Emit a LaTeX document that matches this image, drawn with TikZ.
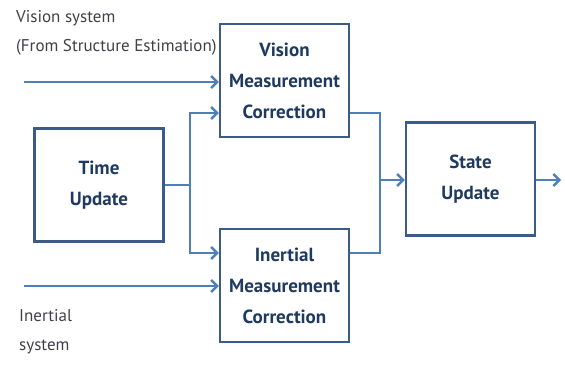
\documentclass[tikz,border=0pt]{standalone}
\usepackage{fontspec}
\setmainfont{PT Sans}
\usetikzlibrary{positioning, arrows.meta}
\definecolor{boxline}{HTML}{3B5C86}
\definecolor{flowline}{HTML}{4F7FB8}
\definecolor{boxtext}{HTML}{1F3A60}
\definecolor{srctext}{HTML}{404048}

\begin{document}
\begin{tikzpicture}[
        x=1pt, y=-1pt,
        block/.style = {draw=boxline, line width=2.4pt, minimum width=129pt, minimum height=113pt, align=center, text=boxtext, font=\bfseries\fontsize{19}{31}\selectfont},
        src/.style   = {anchor=north west, align=left, inner sep=0pt, text=srctext, font=\fontsize{17}{29}\selectfont},
        flow/.style  = {draw=flowline, line width=2.7pt},
        arrow/.style = {flow, -{Straight Barb[length=6pt, width=12pt, line width=2.5pt]}},
    ]
        \useasboundingbox (0,0) rectangle (565,366);

        %---- blocks ----
        \node[block] (tu)  at (99,185)    {Time\\Update};
        \node[block] (vmc) at (284.5,80.5) {Vision\\Measurement\\Correction};
        \node[block] (imc) at (284.5,285.5) {Inertial\\Measurement\\Correction};
        \node[block] (su)  at (470.5,179)  {State\\Update};

        %---- sensor inputs ----
        \node[src] (vsys) at (16,10) {Vision system\\(From Structure Estimation)};
        \node[src] (isys) at (19,309) {Inertial\\system};
        \coordinate (vin) at (24,82);
        \coordinate (iin) at (24,286);
        \draw[arrow] (vin) -- (vin -| vmc.west);
        \draw[arrow] (iin) -- (iin -| imc.west);

        %---- split after time update ----
        \coordinate (split) at (190,185);
        \draw[flow] (tu.east) -- (split);
        \draw[arrow] (split) |- ([yshift=-32.5pt]vmc.west);
        \draw[arrow] (split) |- ([yshift=32.5pt]imc.west);

        %---- merge into state update ----
        \coordinate (merge) at (380,180);
        \draw[flow] ([yshift=-32.5pt]vmc.east) -| (merge);
        \draw[flow] ([yshift=32.5pt]imc.east) -| (merge);
        \draw[arrow] (merge) -- (merge -| su.west);
        \draw[arrow] (su.east |- merge) -- ++(25,0);
    \end{tikzpicture}
\end{document}
